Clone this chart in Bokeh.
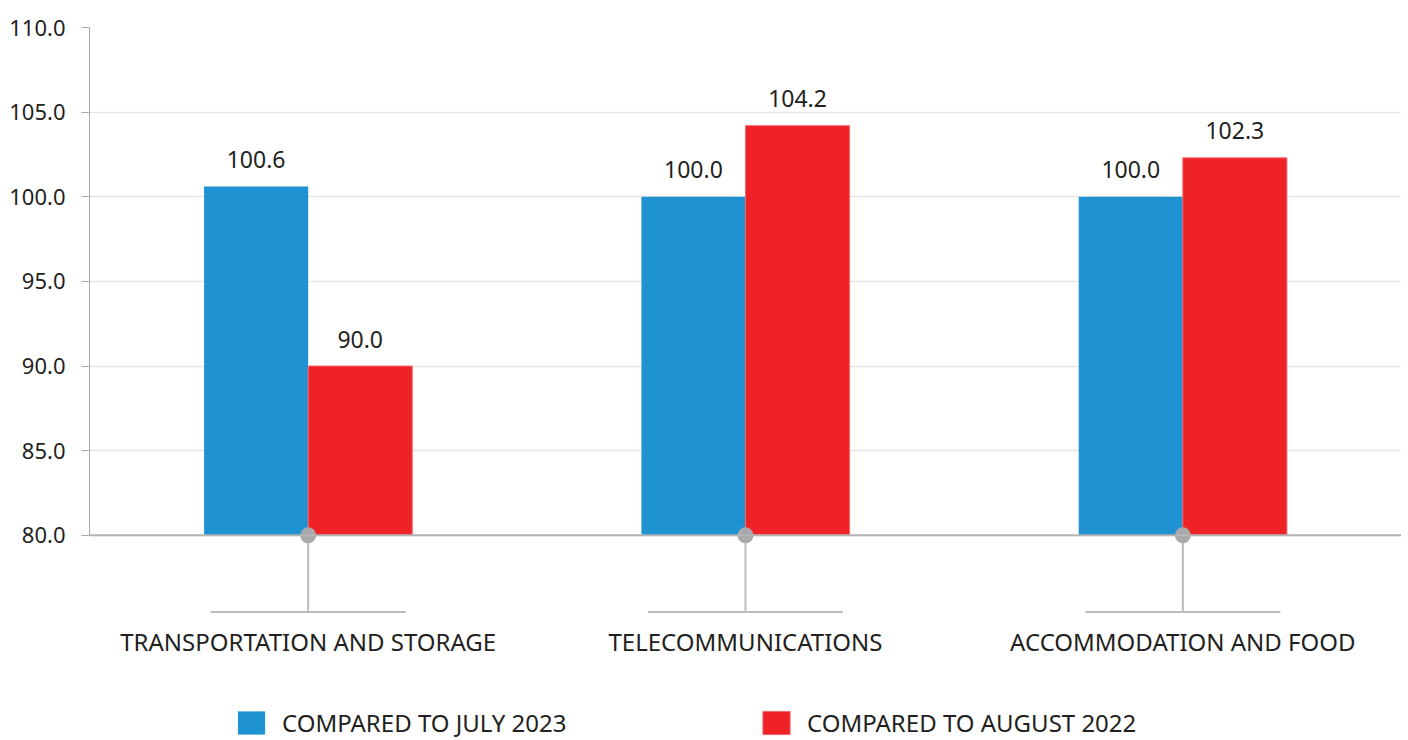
from bokeh.plotting import figure
from bokeh.models import (ColumnDataSource, FactorRange, Range1d, FixedTicker,
                          PrintfTickFormatter, LabelSet, Legend, LegendItem, Span)
from bokeh.transform import dodge
from bokeh.core.properties import value
from bokeh.embed import file_html
from bokeh.resources import INLINE

# ---- data ----
categories = ["TRANSPORTATION AND STORAGE", "TELECOMMUNICATIONS", "ACCOMMODATION AND FOOD"]
july_2023 = [100.6, 100.0, 100.0]
august_2022 = [90.0, 104.2, 102.3]
series_names = ["COMPARED TO JULY 2023", "COMPARED TO AUGUST 2022"]
y_ticks = [80, 85, 90, 95, 100, 105, 110]

# ---- style ----
BLUE = "#1f93d1"
RED = "#ee2227"
TEXT = "#231f20"
FONT = "Noto Sans"
BASELINE = 80.0
STEM_END = 75.47

source = ColumnDataSource(dict(
    cat=categories,
    july=july_2023,
    aug=august_2022,
    july_txt=[f"{v:.1f}" for v in july_2023],
    aug_txt=[f"{v:.1f}" for v in august_2022],
))

p = figure(x_range=FactorRange(factors=categories, range_padding=0),
           y_range=Range1d(67.88, 110),
           frame_width=1312, frame_height=713,
           min_border_left=89, min_border_right=0, min_border_top=27, min_border_bottom=0,
           x_axis_location=None, toolbar_location=None, output_backend="svg")
p.outline_line_color = None
p.background_fill_color = "white"
p.border_fill_color = "white"
p.xgrid.visible = False

yax = p.yaxis[0]
yax.ticker = FixedTicker(ticks=y_ticks)
yax.formatter = PrintfTickFormatter(format="%.1f")
yax.bounds = (80, 110)
yax.axis_line_color = "#aaaaaa"
yax.major_tick_line_color = "#aaaaaa"
yax.major_tick_out = 8
yax.major_tick_in = 0
yax.minor_tick_line_color = None
yax.major_label_standoff = 16
yax.major_label_text_font = FONT
yax.major_label_text_font_size = "22px"
yax.major_label_text_color = TEXT

p.ygrid.grid_line_color = "#e6e6e6"
p.ygrid.grid_line_width = 1.5

W = 0.238
r_blue = p.vbar(x=dodge("cat", -W / 2, range=p.x_range), top="july", bottom=BASELINE,
                width=W, source=source, fill_color=BLUE, line_color=None)
r_red = p.vbar(x=dodge("cat", W / 2, range=p.x_range), top="aug", bottom=BASELINE,
               width=W, source=source, fill_color=RED, line_color="#f26a6d", line_width=1)

p.add_layout(Span(location=BASELINE, dimension="width", line_color="#b4b4b4", line_width=2))

# stems below each category
p.segment(x0="cat", y0=BASELINE, x1="cat", y1=STEM_END, source=source,
          line_color="#bcbcbc", line_width=2)
p.segment(x0=dodge("cat", -0.223, range=p.x_range), y0=STEM_END,
          x1=dodge("cat", 0.223, range=p.x_range), y1=STEM_END, source=source,
          line_color="#bcbcbc", line_width=2)
p.scatter(x="cat", y=BASELINE, size=16, source=source, fill_color="#a9a9ac", line_color=None)

# value labels
for xoff, col in ((-W / 2, "july"), (W / 2, "aug")):
    p.add_layout(LabelSet(x=dodge("cat", xoff, range=p.x_range), y=col, text=col + "_txt",
                          source=source, y_offset=27, text_align="center", text_baseline="middle",
                          text_font=value(FONT), text_font_size="23px", text_color=TEXT))

# category labels
p.add_layout(LabelSet(x="cat", y=BASELINE, text="cat", source=source, y_offset=-106,
                      text_align="center", text_baseline="middle",
                      text_font=value(FONT), text_font_size="24px", text_color=TEXT))

# legends
for rend, name, xloc in ((r_blue, series_names[0], 145), (r_red, series_names[1], 670)):
    leg = Legend(items=[LegendItem(label=name, renderers=[rend])], location=(xloc, 1),
                 orientation="horizontal", padding=0, margin=0, spacing=0,
                 glyph_width=34, glyph_height=29, label_standoff=14,
                 label_text_font=FONT, label_text_font_size="24px", label_text_color=TEXT,
                 border_line_color=None, background_fill_alpha=0)
    p.add_layout(leg)

open("out.html", "w").write(file_html(p, INLINE))
